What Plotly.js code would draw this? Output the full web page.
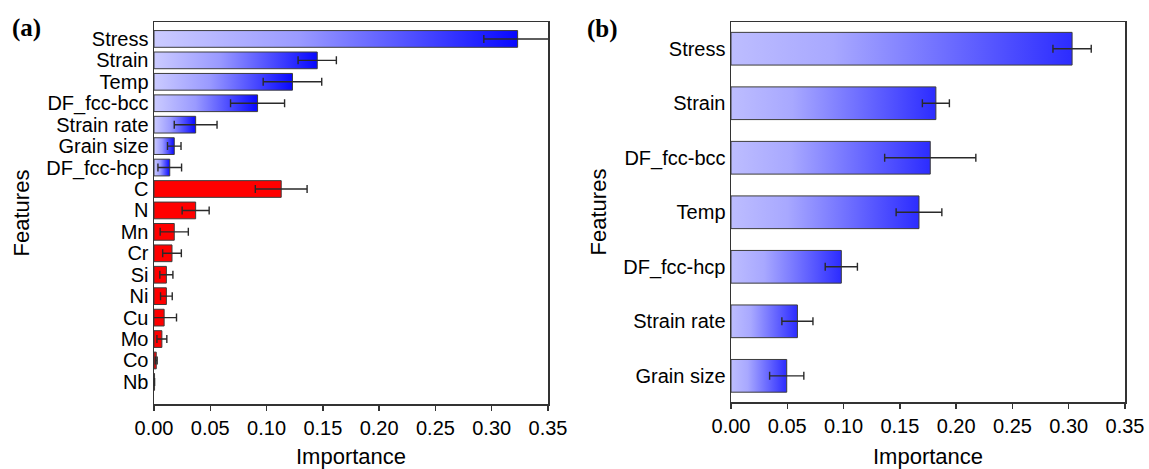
<!DOCTYPE html>
<html>
<head>
<meta charset="utf-8">
<script src="https://cdn.plot.ly/plotly-3.0.1.min.js"></script>
<style>html,body{margin:0;padding:0;background:#fff;}#chart{width:1149px;height:469px;}</style>
</head>
<body>
<div id="chart"></div>
<script>
// ---- data ----
const featuresA = ['Stress','Strain','Temp','DF_fcc-bcc','Strain rate','Grain size','DF_fcc-hcp','C','N','Mn','Cr','Si','Ni','Cu','Mo','Co','Nb'];
const importanceA = [0.323,0.145,0.123,0.092,0.037,0.018,0.014,0.113,0.037,0.018,0.016,0.011,0.011,0.009,0.007,0.002,0.0005];
const errorA = [0.030,0.017,0.026,0.024,0.019,0.006,0.0105,0.023,0.012,0.0125,0.0083,0.0058,0.0052,0.011,0.0044,0.0008,0];
const groupA = ['process','process','process','process','process','process','process','element','element','element','element','element','element','element','element','element','element'];

const featuresB = ['Stress','Strain','DF_fcc-bcc','Temp','DF_fcc-hcp','Strain rate','Grain size'];
const importanceB = [0.303,0.182,0.177,0.167,0.098,0.059,0.0495];
const errorB = [0.017,0.012,0.0405,0.0203,0.0143,0.0138,0.0152];

const xTicks = [0,0.05,0.10,0.15,0.20,0.25,0.30,0.35];
const xTickText = ['0.00','0.05','0.10','0.15','0.20','0.25','0.30','0.35'];

// ---- styles ----
const FONT = 'Liberation Sans, Arial, sans-serif';
const blueScaleA = [[0,'#cbcbff'],[0.4,'#9a9aff'],[1,'#0808ff']];
const blueScaleB = [[0,'#bdbdff'],[0.3,'#a8a8ff'],[1,'#2c2cff']];
const RED = '#ff0000';

function barTraces(values, errors, groups, xa, ya, halfH, scale){
  const traces = [];
  values.forEach((v,i)=>{
    const t = {
      type:'scatter', mode:'lines', xaxis:xa, yaxis:ya,
      x:[0,v,v,0,0], y:[i-halfH,i-halfH,i+halfH,i+halfH,i-halfH],
      fill:'toself', line:{color:'#3c3c3c', width:1},
      hoverinfo:'skip', showlegend:false
    };
    if(groups && groups[i]==='element'){ t.fillcolor = RED; }
    else { t.fillcolor = '#8080ff'; t.fillgradient = {type:'horizontal', colorscale:scale}; }
    traces.push(t);
  });
  traces.push({
    type:'scatter', mode:'markers', xaxis:xa, yaxis:ya,
    x:values, y:values.map((_,i)=>i),
    marker:{size:2, color:'rgba(0,0,0,0)'},
    error_x:{type:'data', array:errors, visible:true, color:'#2a2a2a', thickness:1.4, width:4},
    hoverinfo:'skip', showlegend:false
  });
  return traces;
}

const data = [].concat(
  barTraces(importanceA, errorA, groupA, 'x', 'y', 0.39, blueScaleA),
  barTraces(importanceB, errorB, null, 'x2', 'y2', 0.3, blueScaleB)
);

const W = 1149, H = 469;
const xCommon = {
  range:[0,0.35], tickmode:'array', tickvals:xTicks, ticktext:xTickText,
  ticks:'outside', ticklen:5, tickwidth:1.3, tickcolor:'#333',
  showline:true, mirror:true, linecolor:'#333', linewidth:1.5,
  showgrid:false, zeroline:false,
  tickfont:{family:FONT, size:20, color:'#000'}
};
const yCommon = {
  tickmode:'array', ticks:'', showline:true, mirror:true, linecolor:'#333', linewidth:1.5,
  showgrid:false, zeroline:false, tickfont:{family:FONT, size:20, color:'#000'}
};

const layout = {
  width:W, height:H, margin:{l:0,r:0,t:0,b:0},
  paper_bgcolor:'#fff', plot_bgcolor:'#fff',
  font:{family:FONT, color:'#000'},
  showlegend:false,
  xaxis: Object.assign({}, xCommon, {domain:[154/W, 548/W], anchor:'y',
    title:{text:'Importance', font:{family:FONT,size:22,color:'#000'}, standoff:14}}),
  yaxis: Object.assign({}, yCommon, {domain:[1-404/H, 1-22/H], anchor:'x',
    range:[17.03,-0.79], tickvals:featuresA.map((_,i)=>i), ticktext:featuresA,
    title:{text:'Features', font:{family:FONT,size:22,color:'#000'}, standoff:10}}),
  xaxis2: Object.assign({}, xCommon, {domain:[731/W, 1125/W], anchor:'y2',
    title:{text:'Importance', font:{family:FONT,size:22,color:'#000'}, standoff:14}}),
  yaxis2: Object.assign({}, yCommon, {domain:[1-402/H, 1-22/H], anchor:'x2',
    range:[6.48,-0.49], tickvals:featuresB.map((_,i)=>i), ticktext:featuresB,
    title:{text:'Features', font:{family:FONT,size:22,color:'#000'}, standoff:10}}),
  annotations:[
    {text:'<b>(a)</b>', xref:'paper', yref:'paper', x:10/W, y:1-28/H, xanchor:'left', yanchor:'middle',
     showarrow:false, font:{family:'Liberation Serif, Times New Roman, serif', size:25, color:'#000'}},
    {text:'<b>(b)</b>', xref:'paper', yref:'paper', x:585/W, y:1-29/H, xanchor:'left', yanchor:'middle',
     showarrow:false, font:{family:'Liberation Serif, Times New Roman, serif', size:25, color:'#000'}}
  ]
};

Plotly.newPlot('chart', data, layout, {staticPlot:true, displayModeBar:false});
</script>
</body>
</html>
